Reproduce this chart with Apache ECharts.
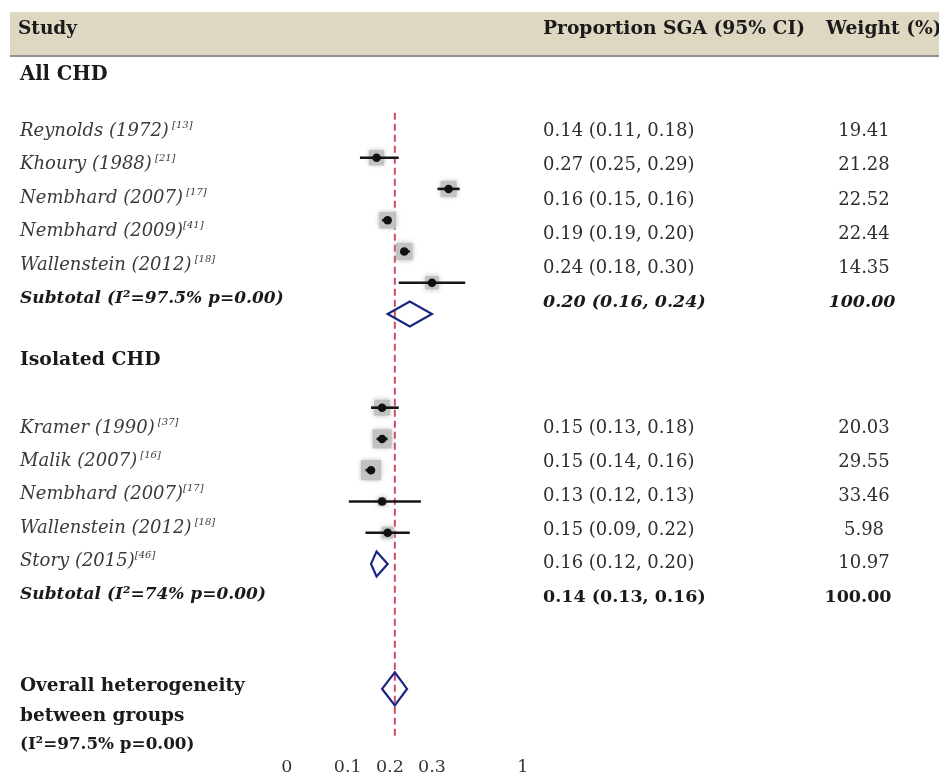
<!DOCTYPE html>
<html>
<head>
<meta charset="utf-8">
<script src="https://cdn.jsdelivr.net/npm/echarts@6/dist/echarts.min.js"></script>
<style>
html,body{margin:0;padding:0;background:#fff;}
#chart{width:939px;height:778px;}
</style>
</head>
<body>
<div id="chart"></div>
<script>
// ---------------- DATA ----------------
const allStudies = ['Reynolds (1972)', 'Khoury (1988)', 'Nembhard (2007)', 'Nembhard (2009)', 'Wallenstein (2012)'];
const allRefs = [' [13]', ' [21]', ' [17]', '[41]', ' [18]'];
const allEst = [0.14, 0.27, 0.16, 0.19, 0.24];
const allLo = [0.11, 0.25, 0.15, 0.19, 0.18];
const allHi = [0.18, 0.29, 0.16, 0.20, 0.30];
const allWeight = [19.41, 21.28, 22.52, 22.44, 14.35];
const allSubtotal = [0.20, 0.16, 0.24];
const allSubWeight = 100.00;
const allSubLabel = 'Subtotal (I\u00B2=97.5% p=0.00)';

const isoStudies = ['Kramer (1990)', 'Malik (2007)', 'Nembhard (2007)', 'Wallenstein (2012)', 'Story (2015)'];
const isoRefs = [' [37]', ' [16]', '[17]', ' [18]', '[46]'];
const isoEst = [0.15, 0.15, 0.13, 0.15, 0.16];
const isoLo = [0.13, 0.14, 0.12, 0.09, 0.12];
const isoHi = [0.18, 0.16, 0.13, 0.22, 0.20];
const isoWeight = [20.03, 29.55, 33.46, 5.98, 10.97];
const isoSubtotal = [0.14, 0.13, 0.16];
const isoSubWeight = 100.00;
const isoSubLabel = 'Subtotal (I\u00B2=74% p=0.00)';

const overall = [0.173, 0.150, 0.195];
const overallLabel = ['Overall heterogeneity', 'between groups', '(I\u00B2=97.5% p=0.00)'];

const tickLabels = ['0', '0.1', '0.2', '0.3', '1'];

// ---------------- LAYOUT ----------------
const FONT = '"DejaVu Serif", "Liberation Serif", serif';
const tickAt = [-0.022, 0.088, 0.164, 0.240, 0.404];   // where the labels sit on the plot scale
const markRowsAll = [0, 1, 2, 3, 4], subRowAll = 5;
const markRowsIso = [8, 9, 10, 11, 12], subRowIso = 13;
const overallRow = 17;
const leftX = 20, ciX = 543, wX = 864;

const fmt = v => v.toFixed(2);
const ciText = (e, l, h) => fmt(e) + ' (' + fmt(l) + ', ' + fmt(h) + ')';

const studyData = [];
allEst.forEach((e, i) => studyData.push([e, allLo[i], allHi[i], markRowsAll[i], allWeight[i]]));
isoEst.forEach((e, i) => studyData.push([e, isoLo[i], isoHi[i], markRowsIso[i], isoWeight[i]]));
const subData = [
  [allSubtotal[0], allSubtotal[1], allSubtotal[2], subRowAll],
  [isoSubtotal[0], isoSubtotal[1], isoSubtotal[2], subRowIso]
];
const overallData = [[overall[0], overall[1], overall[2], overallRow]];

// ---------------- TEXT ----------------
const graphics = [];
graphics.push({type: 'rect', shape: {x: 10, y: 12, width: 929, height: 43}, style: {fill: '#DED8C2'}, z: 0});
graphics.push({type: 'line', shape: {x1: 10, y1: 56, x2: 939, y2: 56}, style: {stroke: '#6e6e6e', lineWidth: 1.5}, z: 1});

function txt(x, y, s, opt) {
  graphics.push({
    type: 'text', z: 5,
    style: Object.assign({
      x: x, y: y, text: s, fill: '#2e2e2e', fontFamily: FONT, fontSize: 18,
      textAlign: 'left', textVerticalAlign: 'middle'
    }, opt || {})
  });
}
function studyTxt(x, y, name, ref) {
  graphics.push({
    type: 'text', z: 5,
    style: {
      x: x, y: y, text: '{n|' + name + '}{s|' + ref + '}',
      textAlign: 'left', textVerticalAlign: 'middle',
      rich: {
        n: {fontFamily: FONT, fontStyle: 'italic', fontSize: 18, fill: '#3a3a3a', lineHeight: 22},
        s: {fontFamily: FONT, fontStyle: 'italic', fontSize: 10, fill: '#3a3a3a', lineHeight: 12, verticalAlign: 'top'}
      }
    }
  });
}
const B = {fontWeight: 'bold', fill: '#1a1a1a'};
const BI = {fontWeight: 'bold', fontStyle: 'italic', fill: '#1a1a1a'};

txt(18, 29, 'Study', Object.assign({fontSize: 18.5}, B));
txt(ciX, 29, 'Proportion SGA (95% CI)', Object.assign({fontSize: 18.7}, B));
txt(826, 29, 'Weight (%)', Object.assign({fontSize: 18.7}, B));

txt(leftX, 75, 'All CHD', Object.assign({fontSize: 19.5}, B));
allStudies.forEach((s, i) => {
  studyTxt(leftX, 131 + 33.5 * i, s, allRefs[i]);
  txt(ciX, 131.5 + 34.2 * i, ciText(allEst[i], allLo[i], allHi[i]));
  txt(wX, 131.5 + 34.2 * i, fmt(allWeight[i]), {textAlign: 'center'});
});
txt(leftX, 299, allSubLabel, Object.assign({fontSize: 17}, BI));
txt(ciX, 302.5, ciText(allSubtotal[0], allSubtotal[1], allSubtotal[2]), Object.assign({fontSize: 17.5}, BI));
txt(wX - 2, 302.5, fmt(allSubWeight), Object.assign({fontSize: 17.5, textAlign: 'center'}, BI));

txt(leftX, 360, 'Isolated CHD', Object.assign({fontSize: 18.8}, B));
isoStudies.forEach((s, i) => {
  studyTxt(leftX, 428 + 33.4 * i, s, isoRefs[i]);
  txt(ciX, 428.5 + 33.8 * i, ciText(isoEst[i], isoLo[i], isoHi[i]));
  txt(wX, 428.5 + 33.8 * i, fmt(isoWeight[i]), {textAlign: 'center'});
});
txt(leftX, 595, isoSubLabel, Object.assign({fontSize: 17}, BI));
txt(ciX, 597, ciText(isoSubtotal[0], isoSubtotal[1], isoSubtotal[2]), Object.assign({fontSize: 17.5}, B));
txt(wX - 6, 597, fmt(isoSubWeight), Object.assign({fontSize: 17.5, textAlign: 'center'}, B));

txt(leftX, 686, overallLabel[0], Object.assign({fontSize: 18.5}, B));
txt(leftX, 716, overallLabel[1], Object.assign({fontSize: 18.5}, B));
txt(leftX, 745, overallLabel[2], Object.assign({fontSize: 16.8}, B));

// ---------------- CHART ----------------
const chart = echarts.init(document.getElementById('chart'), null, {renderer: 'canvas'});

function diamondItem(half) {
  return function (params, api) {
    const e = api.value(0), l = api.value(1), h = api.value(2), r = api.value(3);
    const pc = api.coord([e, r]), pl = api.coord([l, r]), ph = api.coord([h, r]);
    return {
      type: 'polygon',
      shape: {points: [[pl[0], pc[1]], [pc[0], pc[1] - half], [ph[0], pc[1]], [pc[0], pc[1] + half]]},
      style: {fill: 'none', stroke: '#1c2483', lineWidth: 2.2}
    };
  };
}

chart.setOption({
  animation: false,
  backgroundColor: '#ffffff',
  graphic: graphics,
  grid: {left: 271.3, right: 363, top: 110.8, bottom: 42.2, containLabel: false},
  xAxis: [
    {type: 'value', min: -0.05, max: 0.5, show: false},
    {
      type: 'value', min: -0.05, max: 0.5, position: 'bottom',
      axisLine: {show: false}, axisTick: {show: false}, splitLine: {show: false},
      axisLabel: {
        customValues: tickAt, margin: 23, color: '#333', fontFamily: FONT, fontSize: 17.5,
        formatter: function (v) {
          let best = 0;
          tickAt.forEach((t, i) => { if (Math.abs(t - v) < Math.abs(tickAt[best] - v)) best = i; });
          return tickLabels[best];
        }
      }
    }
  ],
  yAxis: {type: 'value', inverse: true, min: -1.5, max: 18.5, show: false},
  series: [
    {
      type: 'custom', xAxisIndex: 0,
      data: [[overall[0]]],
      encode: {x: 0},
      renderItem: function (params, api) {
        const cs = params.coordSys;
        const x = api.coord([api.value(0), 0])[0];
        return {
          type: 'line', z2: 1,
          shape: {x1: x, y1: cs.y + 2, x2: x, y2: cs.y + cs.height},
          style: {stroke: '#cc5060', lineWidth: 2, lineDash: [7, 4]}
        };
      },
      z: 2
    },
    {
      type: 'custom', xAxisIndex: 0,
      data: studyData,
      encode: {x: [0, 1, 2], y: 3},
      renderItem: function (params, api) {
        const e = api.value(0), l = api.value(1), h = api.value(2), r = api.value(3), w = api.value(4);
        const pe = api.coord([e, r]), pl = api.coord([l, r]), ph = api.coord([h, r]);
        const s = 3.5 * Math.sqrt(w);
        return {
          type: 'group',
          children: [
            {type: 'rect', shape: {x: pe[0] - s / 2, y: pe[1] - s / 2, width: s, height: s},
             style: {fill: '#c2c2c2', shadowBlur: 5, shadowColor: 'rgba(160,160,160,0.8)'}},
            {type: 'line', shape: {x1: pl[0], y1: pe[1], x2: ph[0], y2: pe[1]},
             style: {stroke: '#151515', lineWidth: 2.6}},
            {type: 'circle', shape: {cx: pe[0], cy: pe[1], r: 4.3}, style: {fill: '#111'}}
          ]
        };
      },
      z: 3
    },
    {
      type: 'custom', xAxisIndex: 0,
      data: subData, encode: {x: [0, 1, 2], y: 3},
      renderItem: diamondItem(12.5), z: 4
    },
    {
      type: 'custom', xAxisIndex: 0,
      data: overallData, encode: {x: [0, 1, 2], y: 3},
      renderItem: diamondItem(16.5), z: 4
    }
  ]
});
</script>
</body>
</html>
